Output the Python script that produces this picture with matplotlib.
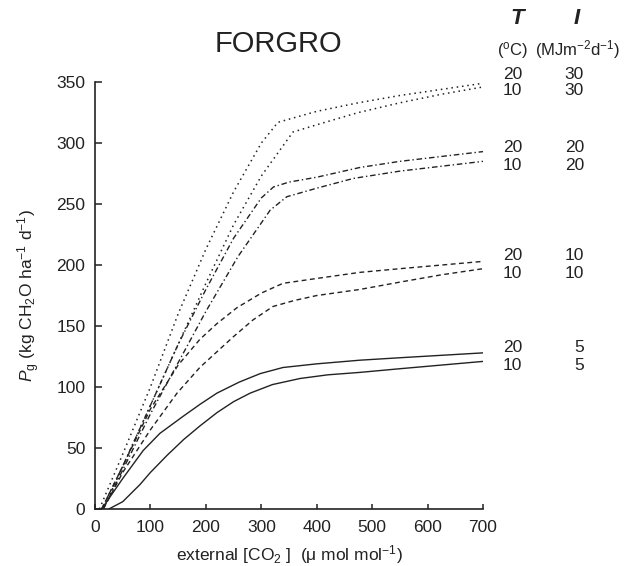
import matplotlib
matplotlib.use("Agg")
import matplotlib.pyplot as plt
import matplotlib.transforms as mtransforms

plt.rcParams['font.family'] = ['Liberation Sans', 'DejaVu Sans']
plt.rcParams['mathtext.fontset'] = 'custom'
plt.rcParams['mathtext.rm'] = 'Liberation Sans'
plt.rcParams['mathtext.it'] = 'Liberation Sans:italic'
plt.rcParams['mathtext.bf'] = 'Liberation Sans:bold'

# Data: gross photosynthesis vs external CO2 (T degC, I MJ m-2 d-1)
x_20_30 = [8, 50, 100, 150, 200, 250, 300, 330, 400, 475, 550, 625, 700]
y_20_30 = [0, 45, 100, 160, 213, 260, 300, 317, 326, 333, 339, 344, 349]
x_10_30 = [15, 50, 100, 150, 200, 250, 300, 357, 400, 475, 550, 625, 700]
y_10_30 = [0, 35, 85, 135, 185, 233, 273, 309, 315, 325, 333, 340, 346]
x_20_20 = [12, 50, 100, 150, 200, 250, 300, 322, 350, 400, 478, 550, 625, 700]
y_20_20 = [0, 35, 85, 135, 180, 222, 255, 264, 268, 272, 280, 285, 289, 293]
x_10_20 = [15, 50, 100, 150, 200, 258, 316, 346, 400, 466, 550, 625, 700]
y_10_20 = [0, 32, 78, 120, 162, 207, 245, 256, 263, 271, 277, 281, 285]
x_20_10 = [12, 50, 100, 150, 189, 220, 256, 300, 339, 400, 478, 550, 625, 700]
y_20_10 = [0, 35, 82, 118, 139, 152, 165, 177, 185, 189, 194, 197, 200, 203]
x_10_10 = [15, 50, 100, 148, 189, 249, 285, 321, 360, 400, 478, 550, 625, 700]
y_10_10 = [0, 30, 65, 95, 116, 141, 155, 166, 171, 175, 180, 186, 192, 197]
x_20_5 = [12, 50, 87, 117, 159, 190, 220, 260, 298, 339, 400, 478, 550, 625, 700]
y_20_5 = [0, 25, 48, 62, 76, 86, 95, 104, 111, 116, 119, 122, 124, 126, 128]
x_10_5 = [25, 50, 81, 100, 130, 160, 189, 220, 250, 280, 320, 370, 420, 478, 550, 625, 700]
y_10_5 = [0, 6, 20, 30, 44, 57, 68, 79, 88, 95, 102, 107, 110, 112, 115, 118, 121]

T_labels = ['20', '10', '20', '10', '20', '10', '20', '10']
I_labels = ['30', '30', '20', '20', '10', '10', '5', '5']
label_pos = [356, 343, 296, 282, 208, 193, 132, 118]

xticks = [0, 100, 200, 300, 400, 500, 600, 700]
yticks = [0, 50, 100, 150, 200, 250, 300, 350]

fig = plt.figure(figsize=(6.39, 5.66), dpi=100)
ax = fig.add_axes([0.1487, 0.1007, 0.6072, 0.7543])

c = '#222222'
lw = 1.0
ax.plot(x_20_30, y_20_30, color=c, lw=1.1, linestyle=(0, (1, 2.5)))
ax.plot(x_10_30, y_10_30, color=c, lw=1.1, linestyle=(0, (1, 2.5)))
ax.plot(x_20_20, y_20_20, color=c, lw=lw, linestyle=(0, (4, 2, 1, 2)))
ax.plot(x_10_20, y_10_20, color=c, lw=lw, linestyle=(0, (4, 2, 1, 2)))
ax.plot(x_20_10, y_20_10, color=c, lw=lw, linestyle=(0, (3.5, 2.5)))
ax.plot(x_10_10, y_10_10, color=c, lw=lw, linestyle=(0, (3.5, 2.5)))
ax.plot(x_20_5, y_20_5, color=c, lw=lw, linestyle='-')
ax.plot(x_10_5, y_10_5, color=c, lw=lw, linestyle='-')

ax.set_xlim(0, 700)
ax.set_ylim(0, 350)
ax.set_xticks(xticks)
ax.set_yticks(yticks)
ax.spines['top'].set_visible(False)
ax.spines['right'].set_visible(False)
for s in ['left', 'bottom']:
    ax.spines[s].set_color(c)
    ax.spines[s].set_linewidth(1.2)
ax.tick_params(axis='y', direction='in', length=5, width=1.1, color=c, labelsize=12.5, pad=7, labelcolor=c)
ax.tick_params(axis='x', direction='in', length=3.5, width=1.1, color=c, labelsize=12.5, pad=8, labelcolor=c)

ax.set_xlabel(r'external [CO$_2$ ]  ($\mathrm{\mu}$ mol mol$^{-1}$)', fontsize=12.5, color=c, labelpad=6)
ax.set_ylabel(r'$P_{\rm g}$ (kg CH$_2$O ha$^{-1}$ d$^{-1}$)', fontsize=12.5, color=c, labelpad=10)

fig.text(0.435, 0.922, 'FORGRO', fontsize=21, ha='center', va='center', color=c)

# right header
fig.text(517 / 639, 1 - 18 / 566, 'T', fontsize=16, fontweight='bold', style='italic', ha='center', va='center', color=c)
fig.text(577 / 639, 1 - 18 / 566, 'I', fontsize=16, fontweight='bold', style='italic', ha='center', va='center', color=c)
fig.text(513 / 639, 1 - 50 / 566, r'($^{\rm o}$C)', fontsize=12, ha='center', va='center', color=c)
fig.text(578 / 639, 1 - 50 / 566, r'(MJm$^{-2}$d$^{-1}$)', fontsize=12, ha='center', va='center', color=c)

blend = mtransforms.blended_transform_factory(fig.transFigure, ax.transData)
for t, i, yv in zip(T_labels, I_labels, label_pos):
    ax.text(522 / 639, yv, t, transform=blend, fontsize=12.5, ha='right', va='center', color=c, clip_on=False)
    ax.text(584 / 639, yv, i, transform=blend, fontsize=12.5, ha='right', va='center', color=c, clip_on=False)

fig.savefig('out.png', dpi=100, facecolor='white')
